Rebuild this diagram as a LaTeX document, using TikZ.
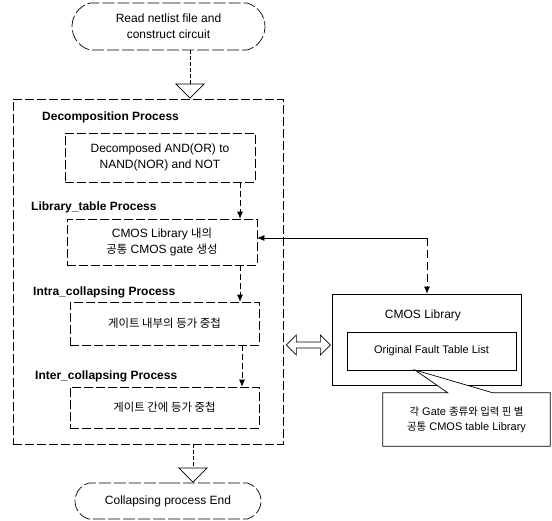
\documentclass[tikz,border=0pt]{standalone}
\usepackage{fontspec}
\setmainfont{Liberation Sans}
\newfontfamily\kr{Noto Sans CJK KR}[Scale=0.95]
\usetikzlibrary{arrows.meta,shapes.misc,calc}
\begin{document}
\begin{tikzpicture}[x=1pt,y=-1pt,
  font=\fontsize{12}{16}\selectfont,
  dbox/.style={draw, line width=0.7pt, dash pattern=on 9pt off 3pt, inner sep=0pt, align=center},
  sbox/.style={draw, line width=0.7pt, inner sep=0pt, align=center},
  term/.style={draw, line width=0.7pt, dash pattern=on 12pt off 3pt, rounded rectangle, rounded rectangle arc length=150, inner sep=0pt, align=center},
  head/.style={font=\fontsize{12}{14}\selectfont\bfseries, anchor=west, inner sep=0pt},
  arr/.style={-{Latex[length=7pt,width=6pt]}, line width=0.7pt},
  hollow/.style={-{Triangle[open, length=15pt, width=30pt, line width=0.8pt]}, line width=0.7pt, dash pattern=on 4pt off 2pt}
]
\useasboundingbox (0,0) rectangle (552,520);

% terminators
\node[term, minimum width=193pt, minimum height=47pt] (start) at (168.5,26.5) {Read netlist file and\\construct circuit};
\node[term, minimum width=186pt, minimum height=36pt] (stop) at (168,501) {Collapsing process End};

% outer dashed frame
\node[dbox, minimum width=270pt, minimum height=345pt] (outer) at (148,271.5) {};

% headings
\node[head] (h1) at (42,117) {Decomposition Process};
\node[head] (h2) at (31,207) {Library\_table Process};
\node[head] (h3) at (33,292) {Intra\_collapsing Process};
\node[head] (h4) at (35,376) {Inter\_collapsing Process};

% process boxes
\node[dbox, minimum width=190pt, minimum height=49pt] (b1) at (160,157.5) {Decomposed AND(OR) to\\NAND(NOR) and NOT};
\node[dbox, minimum width=190pt, minimum height=46pt] (b2) at (162,242) {CMOS Library {\kr 내의}\\{\kr 공통} CMOS gate {\kr 생성}};
\node[dbox, minimum width=189pt, minimum height=43pt] (b3) at (164.5,323.5) {{\kr 게이트 내부의 등가 중첩}};
\node[dbox, minimum width=189pt, minimum height=41pt] (b4) at (164.5,407.5) {{\kr 게이트 간에 등가 중첩}};

% CMOS library
\node[sbox, minimum width=189pt, minimum height=91pt] (lib) at (426.5,339.5) {};
\node[inner sep=0pt] (libt) at (423,315) {CMOS Library};
\node[sbox, line width=0.6pt, minimum width=169pt, minimum height=38pt, font=\fontsize{11}{13}\selectfont] (fault) at (431.5,351) {Original Fault Table List};

% callout
\node[inner sep=0pt, minimum width=167pt, minimum height=53pt, align=center, font=\fontsize{11}{15}\selectfont] (co) at (466.5,419.5) {};
\coordinate (tip) at (415,370);
\draw[line width=0.7pt, fill=white] (co.north west) -- ($(co.north west)+(65,0)$) -- (tip) -- ($(co.north west)+(110,0)$) -- (co.north east) -- (co.south east) -- (co.south west) -- cycle;
\node[align=center, font=\fontsize{11}{15}\selectfont, inner sep=0pt] (cot) at (co.center) {{\kr 각} Gate {\kr 종류와 입력 핀 별}\\{\kr 공통} CMOS table Library};

% coordinates for connector columns
\coordinate (xa) at (190,0);
\coordinate (xb) at (193,0);
\coordinate (x1) at (240,0);
\coordinate (x2) at (242,0);
\coordinate (corner) at (427,238);
\coordinate (ymid) at (0,345);

% hollow flow arrows
\draw[hollow] (start.south -| xa) -- (outer.north -| xa);
\draw[hollow] (outer.south -| xb) -- (stop.north -| xb);

% inner arrows
\draw[arr, dash pattern=on 6pt off 3pt] (b1.south -| x1) -- (b2.north -| x1);
\draw[arr, dash pattern=on 6pt off 3pt] (b2.south -| x1) -- (b3.north -| x1);
\draw[arr, dash pattern=on 6pt off 3pt] (b3.south -| x2) -- (b4.north -| x2);

% library link
\draw[arr] (corner) -- (b2.east |- corner);
\draw[arr, dash pattern=on 8pt off 4pt] (corner) -- (lib.north -| corner);

% hollow double arrow between frame and library
\coordinate (dl) at ($(outer.east |- ymid)+(3,0)$);
\draw[line width=0.7pt] (dl) -- ++(10,-10) -- ++(0,7) -- ++(24,0) -- ++(0,-7) -- ++(10,10) -- ++(-10,10) -- ++(0,-7) -- ++(-24,0) -- ++(0,7) -- cycle;
\end{tikzpicture}
\end{document}
